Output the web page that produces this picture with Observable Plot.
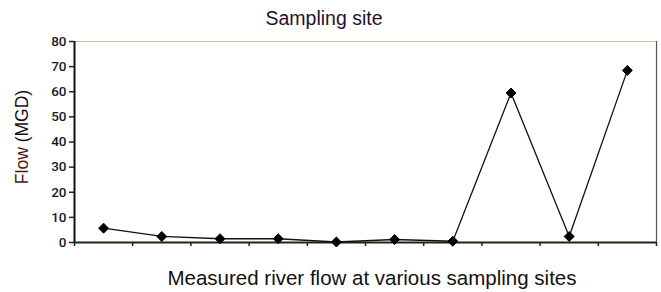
<!DOCTYPE html>
<html>
<head>
<meta charset="utf-8">
<script src="https://cdn.jsdelivr.net/npm/d3@7"></script>
<script src="https://cdn.jsdelivr.net/npm/@observablehq/plot@0.6"></script>
<style>
  html, body { margin: 0; padding: 0; background: #fff; }
  body { width: 661px; height: 292px; position: relative; overflow: hidden; font-family: "Liberation Sans", Arial, sans-serif; }
  #title { position: absolute; left: 0; top: 6px; width: 648px; text-align: center; font-size: 19.5px; color: #2a1030; line-height: 24px; }
  #chart { position: absolute; left: 0; top: 28px; }
  #caption { position: absolute; left: 0; top: 266px; width: 744px; text-align: center; font-size: 20.5px; color: #111; line-height: 24px; }
  #ylab { position: absolute; left: 22px; top: 137px; transform: translate(-50%, -50%) rotate(-90deg); font-size: 17.5px; white-space: nowrap; color: #111; line-height: 20px; }
  #chart g[aria-label="y-axis tick label"] { font-size: 13.5px !important; font-family: Roboto, "Liberation Sans", sans-serif; font-weight: 500; }
</style>
</head>
<body>
<div id="title">Sampling site</div>
<div id="ylab"><span style="color:#4a1a10">Flow</span> (MGD)</div>
<div id="chart"></div>
<div id="caption">Measured river flow at various sampling sites</div>
<script>
const sites = [1, 2, 3, 4, 5, 6, 7, 8, 9, 10];
const flow = [5.7, 2.4, 1.5, 1.5, 0.2, 1.2, 0.5, 59.5, 2.4, 68.5];
const yTicks = [0, 10, 20, 30, 40, 50, 60, 70, 80];

const data = sites.map((s, i) => ({site: s, flow: flow[i]}));
const boundaries = [...sites.map(s => s - 0.5), sites[sites.length - 1] + 0.5];

const chart = Plot.plot({
  width: 661,
  height: 228,
  marginLeft: 74,
  marginRight: 5,
  marginTop: 13,
  marginBottom: 14,
  style: {fontFamily: "Liberation Sans, Arial, sans-serif", fontSize: "13px", color: "#111", background: "transparent"},
  x: {type: "linear", domain: [boundaries[0], boundaries[boundaries.length - 1]]},
  y: {domain: [0, 80]},
  marks: [
    Plot.ruleY([80], {stroke: "#b8d0a8", strokeWidth: 1.2}),
    Plot.ruleX([boundaries[boundaries.length - 1]], {stroke: "#555", strokeWidth: 1.2}),
    Plot.axisY({ticks: yTicks, tickSize: 5, tickPadding: 3, label: null, fontSize: 13, fill: "#1a1a1a", stroke: "#222", strokeWidth: 1.5}),
    Plot.axisX({ticks: boundaries, tickFormat: () => "", tickSize: 4, label: null, stroke: "#222", strokeWidth: 1.5}),
    Plot.ruleX([boundaries[0]], {stroke: "#111", strokeWidth: 2}),
    Plot.ruleY([0], {stroke: "#1a2a10", strokeWidth: 2}),
    Plot.line(data, {x: "site", y: "flow", stroke: "#111", strokeWidth: 1.3}),
    Plot.dot(data, {x: "site", y: "flow", symbol: "diamond2", r: 4.5, fill: "#000", stroke: "#000", strokeWidth: 1})
  ]
});
document.getElementById("chart").appendChild(chart);
</script>
</body>
</html>
